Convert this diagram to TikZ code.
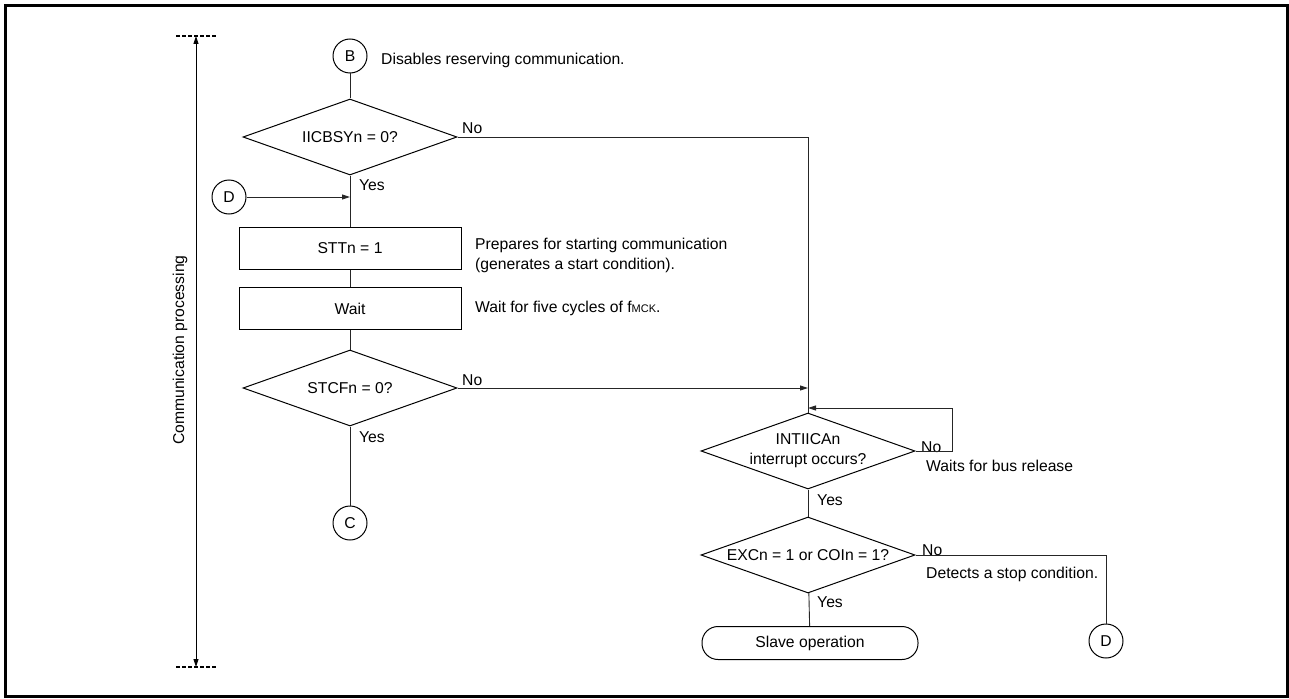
\documentclass[tikz,border=0pt]{standalone}
\usepackage{fontspec}
\setmainfont{Liberation Sans}
\usetikzlibrary{shapes.geometric,arrows.meta}
\begin{document}
\begin{tikzpicture}[x=1pt,y=-1pt,
  every node/.style={font=\fontsize{15.7}{20}\selectfont},
  dec/.style={diamond, draw, line width=1pt, minimum width=214pt, minimum height=76pt, inner sep=0pt, aspect=2.8, align=center},
  proc/.style={rectangle, draw, line width=1pt, minimum width=222pt, minimum height=42pt, inner sep=0pt},
  conn/.style={circle, draw, line width=1pt, minimum size=34pt, inner sep=0pt},
  term/.style={rectangle, rounded corners=16pt, draw, line width=1pt, minimum width=216pt, minimum height=33pt, inner sep=0pt},
  flow/.style={line width=0.9pt, draw=black!85},
  arr/.style={-{Triangle[length=8pt,width=5pt]}},
  lbl/.style={anchor=base west, inner sep=0pt},
  marker/.style={line width=1.3pt, dash pattern=on 4pt off 2pt}
]
\useasboundingbox (0,0) rectangle (1289,698);
\draw[line width=3pt] (5.5,5.5) rectangle (1287.5,696.5);

% range arrow
\coordinate (rtop) at (196,36);
\coordinate (rbot) at (196,667);
\coordinate (mt1) at (176,36); \coordinate (mt2) at (217,36);
\coordinate (mb1) at (176,667); \coordinate (mb2) at (217,667);
\draw[marker] (mt1) -- (mt2);
\draw[marker] (mb1) -- (mb2);
\draw[line width=0.9pt, {Triangle[length=8pt,width=5pt]}-{Triangle[length=8pt,width=5pt]}] (rtop) -- (rbot);
\node[rotate=90, inner sep=0pt] (cp) at (180,350) {Communication processing};

% main column
\node[conn] (B) at (350,56) {B};
\node[lbl] (tB) at (381,65) {Disables reserving communication.};
\node[dec] (d1) at (350,137) {IICBSYn = 0?};
\node[lbl] (n1) at (462,133) {No};
\node[lbl] (y1) at (359,190) {Yes};
\node[conn] (D1) at (229,197) {D};
\coordinate (j1) at (350,197);
\node[proc] (p1) at (350,248) {STTn = 1};
\node[lbl] (t1) at (475,249) {Prepares for starting communication};
\node[lbl] (t2) at (475,269) {(generates a start condition).};
\node[proc] (p2) at (350,308.5) {Wait};
\node[lbl] (t3) at (475,312) {Wait for five cycles of f{\fontsize{11}{13}\selectfont MCK}.};
\node[dec] (d2) at (350,388) {STCFn = 0?};
\node[lbl] (n2) at (462,385) {No};
\node[lbl] (y2) at (359,442) {Yes};
\node[conn] (C) at (350,523) {C};

% right column
\node[dec] (d3) at (808,451) {INTIICAn\\interrupt occurs?};
\node[lbl] (n3) at (921,452) {No};
\node[lbl] (t4) at (926,471) {Waits for bus release};
\node[lbl] (y3) at (817,505) {Yes};
\node[dec] (d4) at (808,555) {EXCn = 1 or COIn = 1?};
\node[lbl] (n4) at (922,555) {No};
\node[lbl] (t5) at (926,578) {Detects a stop condition.};
\node[lbl] (y4) at (817,607) {Yes};
\node[term] (S) at (810,643) {Slave operation};
\node[conn] (D2) at (1106,641) {D};

\coordinate (m2) at (808,388);
\coordinate (la) at (952,451);
\coordinate (lb) at (952,408);
\coordinate (lc) at (808,408);

% connectors
\draw[flow] (B) -- (d1);
\draw[flow] (d1.south) -- (p1.north);
\draw[flow,arr] (D1) -- (j1);
\draw[flow] (p1) -- (p2);
\draw[flow] (p2) -- (d2);
\draw[flow] (d2) -- (C);
\draw[flow] (d1.east) -- (d1.east -| d3.north) -- (d3.north);
\draw[flow,arr] (d2.east) -- (m2);
\draw[flow,arr] (d3.east) -- (la) -- (lb) -- (lc);
\draw[flow] (d3) -- (d4);
\draw[flow] (d4) -- (S);
\draw[flow] (d4.east) -- (d4.east -| D2.north) -- (D2.north);
\end{tikzpicture}
\end{document}
